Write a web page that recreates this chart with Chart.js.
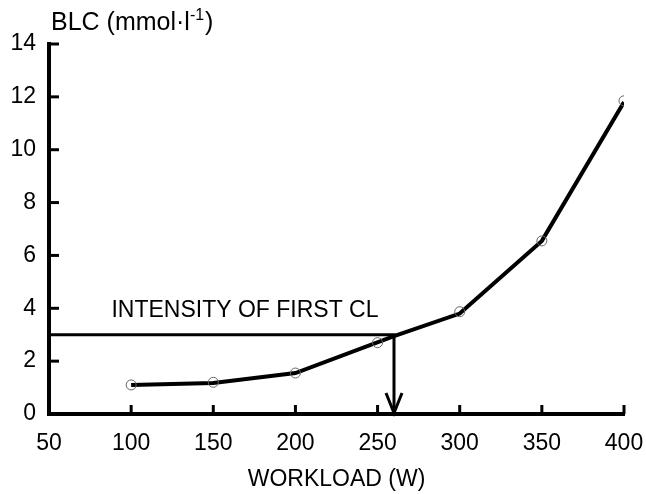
<!DOCTYPE html>
<html>
<head>
<meta charset="utf-8">
<script src="https://cdn.jsdelivr.net/npm/chart.js@4.4.1/dist/chart.umd.min.js"></script>
<style>
  html, body { margin: 0; padding: 0; background: #fff; }
  #wrap { width: 646px; height: 494px; }
</style>
</head>
<body>
<div id="wrap"><canvas id="chart-blc"></canvas></div>
<script>
// Dados do gráfico
const workload = [100, 150, 200, 250, 300, 350, 400];
const blcMedido = [1.1, 1.2, 1.55, 2.7, 3.87, 6.55, 11.85];

// Curva desenhada (passa pelo ponto do primeiro CL)
const curvaX = [100, 150, 200, 260, 300, 350, 400];
const curvaY = [1.1, 1.17, 1.55, 2.95, 3.8, 6.55, 11.8];

// Linha de referência do primeiro CL
const clX = [50, 260, 260];
const clY = [3, 3, 0];

const xTicks = [50, 100, 150, 200, 250, 300, 350, 400];
const yTicks = [0, 2, 4, 6, 8, 10, 12, 14];

const fonte = "'Liberation Sans', Arial, Helvetica, sans-serif";

function toPoints(xs, ys) {
    return xs.map((x, i) => ({ x: x, y: ys[i] }));
}

// Plugin: marcas dos eixos para dentro, seta e textos
const extrasPlugin = {
    id: 'extras',
    afterDatasetsDraw(chart) {
        const ctx = chart.ctx;
        const xs = chart.scales.x;
        const ys = chart.scales.y;
        const area = chart.chartArea;
        ctx.save();
        ctx.strokeStyle = '#000';
        ctx.lineWidth = 3;
        ctx.lineCap = 'butt';

        // marcas do eixo y
        yTicks.forEach(v => {
            if (v === 0) return;
            const py = ys.getPixelForValue(v);
            ctx.beginPath();
            ctx.moveTo(area.left, py);
            ctx.lineTo(area.left + 10, py);
            ctx.stroke();
        });
        // marcas do eixo x
        xTicks.forEach(v => {
            if (v === 50) return;
            const px = xs.getPixelForValue(v);
            ctx.beginPath();
            ctx.moveTo(px, area.bottom);
            ctx.lineTo(px, area.bottom - 9);
            ctx.stroke();
        });

        // ponta da seta
        const ax = xs.getPixelForValue(clX[2]);
        const ay = ys.getPixelForValue(clY[2]);
        ctx.beginPath();
        ctx.moveTo(ax - 8, ay - 21);
        ctx.lineTo(ax, ay - 1);
        ctx.lineTo(ax + 8, ay - 21);
        ctx.stroke();

        // textos
        ctx.fillStyle = '#000';
        ctx.font = '23px ' + fonte;
        ctx.textBaseline = 'middle';
        ctx.textAlign = 'left';
        ctx.fillText('INTENSITY OF FIRST CL', xs.getPixelForValue(88), ys.getPixelForValue(3.9));

        // título do eixo y
        let tx = 51;
        const ty = 23;
        const parte1 = 'BLC (mmol\u00b7l';
        ctx.font = '25px ' + fonte;
        ctx.fillText(parte1, tx, ty);
        tx += ctx.measureText(parte1).width;
        ctx.font = '16px ' + fonte;
        ctx.fillText('-1', tx, ty - 7);
        tx += ctx.measureText('-1').width;
        ctx.font = '25px ' + fonte;
        ctx.fillText(')', tx + 1, ty);
        ctx.restore();
    }
};

function createBlcChart() {
    const ctx = document.getElementById('chart-blc');
    window.blcChart = new Chart(ctx, {
        type: 'scatter',
        data: {
            datasets: [
                {
                    label: 'Curva',
                    data: toPoints(curvaX, curvaY),
                    showLine: true,
                    borderColor: '#000',
                    borderWidth: 4,
                    pointRadius: 0,
                    order: 2
                },
                {
                    label: 'CL',
                    data: toPoints(clX, clY),
                    showLine: true,
                    borderColor: '#000',
                    borderWidth: 3,
                    pointRadius: 0,
                    order: 3
                },
                {
                    label: 'Medido',
                    data: toPoints(workload, blcMedido),
                    showLine: false,
                    pointRadius: 5,
                    pointBorderWidth: 1,
                    pointBorderColor: '#666',
                    pointBackgroundColor: 'rgba(255,255,255,0)',
                    order: 1
                }
            ]
        },
        options: {
            responsive: true,
            maintainAspectRatio: false,
            animation: false,
            layout: { padding: { left: 0, right: 22, top: 44, bottom: 0 } },
            plugins: {
                legend: { display: false },
                tooltip: { enabled: false }
            },
            scales: {
                x: {
                    type: 'linear',
                    min: 50,
                    max: 400,
                    afterBuildTicks: s => { s.ticks = xTicks.map(v => ({ value: v })); },
                    afterFit: s => { s.height = 80; s.paddingLeft = 0; s.paddingRight = 0; },
                    grid: { drawOnChartArea: false, drawTicks: false },
                    border: { display: true, color: '#000', width: 4 },
                    ticks: { color: '#000', font: { family: fonte, size: 23 }, padding: 16, maxRotation: 0 },
                    title: {
                        display: true,
                        text: 'WORKLOAD (W)',
                        color: '#000',
                        font: { family: fonte, size: 23 },
                        padding: { top: 0, bottom: 1 }
                    }
                },
                y: {
                    type: 'linear',
                    min: 0,
                    max: 14,
                    afterBuildTicks: s => { s.ticks = yTicks.map(v => ({ value: v })); },
                    afterFit: s => { s.width = 49; s.paddingTop = 0; s.paddingBottom = 0; },
                    grid: { drawOnChartArea: false, drawTicks: false },
                    border: { display: true, color: '#000', width: 4 },
                    ticks: { color: '#000', font: { family: fonte, size: 23 }, padding: 13 }
                }
            }
        },
        plugins: [extrasPlugin]
    });
}

createBlcChart();
</script>
</body>
</html>
